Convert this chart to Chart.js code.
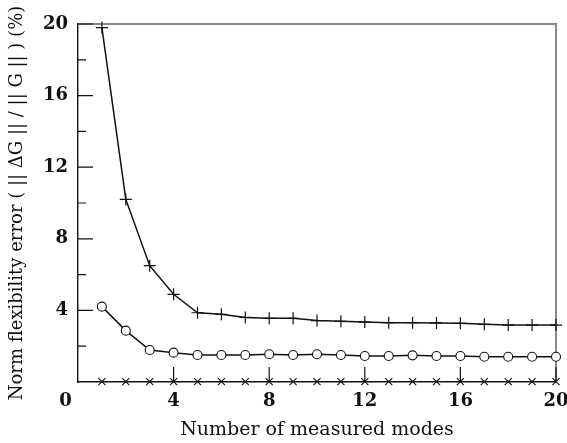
<!DOCTYPE html>
<html>
<head>
<meta charset="utf-8">
<script src="https://cdn.jsdelivr.net/npm/chart.js@4"></script>
<style>
  body { margin: 0; background: #fff; }
  canvas { display: block; }
</style>
</head>
<body>
<canvas id="chart" width="567" height="443"></canvas>
<script>
const modes = [1, 2, 3, 4, 5, 6, 7, 8, 9, 10, 11, 12, 13, 14, 15, 16, 17, 18, 19, 20];
const plusErr = [19.8, 10.2, 6.5, 4.9, 3.87, 3.78, 3.61, 3.56, 3.56, 3.43, 3.39, 3.35, 3.31, 3.31, 3.3, 3.28, 3.22, 3.18, 3.18, 3.18];
const circleErr = [4.21, 2.87, 1.79, 1.64, 1.51, 1.51, 1.51, 1.55, 1.51, 1.55, 1.51, 1.45, 1.45, 1.49, 1.45, 1.45, 1.41, 1.41, 1.41, 1.41];
const crossErr = [0.02, 0.02, 0.02, 0.02, 0.02, 0.02, 0.02, 0.02, 0.02, 0.02, 0.02, 0.02, 0.02, 0.02, 0.02, 0.02, 0.02, 0.02, 0.02, 0.02];
const xTicks = [0, 4, 8, 12, 16, 20];
const yTicks = [4, 8, 12, 16, 20];
const yMinorTicks = [2, 6, 10, 14, 18];

const toPoints = (ys) => modes.map((m, i) => ({ x: m, y: ys[i] }));

// ticks pointing into the plot + the grey top/right frame
const frame = {
    id: "frame",
    beforeDatasetsDraw(chart) {
        const { ctx, chartArea: a, scales } = chart;
        ctx.save();
        ctx.strokeStyle = "#888";
        ctx.lineWidth = 2;
        ctx.beginPath();
        ctx.moveTo(a.left, a.top);
        ctx.lineTo(a.right, a.top);
        ctx.lineTo(a.right, a.bottom);
        ctx.stroke();

        ctx.strokeStyle = "#111";
        ctx.lineWidth = 1.2;
        ctx.beginPath();
        yTicks.forEach((v) => {
            const y = scales.y.getPixelForValue(v);
            ctx.moveTo(a.left, y);
            ctx.lineTo(a.left + 15, y);
        });
        yMinorTicks.forEach((v) => {
            const y = scales.y.getPixelForValue(v);
            ctx.moveTo(a.left, y);
            ctx.lineTo(a.left + 8, y);
        });
        xTicks.slice(1).forEach((v) => {
            const x = scales.x.getPixelForValue(v);
            ctx.moveTo(x, a.bottom);
            ctx.lineTo(x, a.bottom - 15);
        });
        ctx.stroke();
        ctx.restore();
    },
};

const tickFont = { family: "DejaVu Serif", size: 18, weight: "bold" };
const xTitleFont = { family: "DejaVu Serif", size: 19 };
const yTitleFont = { family: "DejaVu Serif", size: 18 };

new Chart(document.getElementById("chart"), {
    type: "line",
    data: {
        datasets: [
            {
                data: toPoints(plusErr),
                borderColor: "#111",
                borderWidth: 1.5,
                pointStyle: "cross",
                pointRadius: 6,
                pointBorderColor: "#111",
                pointBorderWidth: 1.2,
                clip: false,
            },
            {
                data: toPoints(circleErr),
                borderColor: "#111",
                borderWidth: 1.5,
                pointStyle: "circle",
                pointRadius: 4.5,
                pointBackgroundColor: "#fff",
                pointBorderColor: "#111",
                pointBorderWidth: 1.1,
                clip: false,
            },
            {
                data: toPoints(crossErr),
                showLine: false,
                pointStyle: "crossRot",
                pointRadius: 5,
                pointBorderColor: "#111",
                pointBorderWidth: 1.1,
                clip: false,
            },
        ],
    },
    options: {
        responsive: false,
        animation: false,
        layout: { padding: { top: 24, right: 11, left: 0, bottom: 0 } },
        plugins: {
            legend: { display: false },
            tooltip: { enabled: false },
        },
        scales: {
            x: {
                type: "linear",
                min: 0,
                max: 20,
                afterFit: (s) => {
                    s.height = 61;
                    s.paddingLeft = 0;
                    s.paddingRight = 0;
                },
                afterBuildTicks: (s) => { s.ticks = xTicks.map((v) => ({ value: v })); },
                grid: { display: false, drawTicks: false },
                border: { color: "#111", width: 1.4 },
                ticks: {
                    padding: 9,
                    color: "#111",
                    font: tickFont,
                    maxRotation: 0,
                    callback: (v) => (v === 0 ? "0\u2007\u2007" : v),
                },
                title: {
                    display: true,
                    text: "Number of measured modes",
                    color: "#111",
                    font: xTitleFont,
                    padding: { top: 4, bottom: 2 },
                },
            },
            y: {
                min: 0,
                max: 20,
                afterFit: (s) => {
                    s.width = 78;
                    s.paddingTop = 0;
                    s.paddingBottom = 0;
                },
                afterBuildTicks: (s) => { s.ticks = [0, ...yTicks].map((v) => ({ value: v })); },
                grid: { display: false, drawTicks: false },
                border: { color: "#111", width: 1.4 },
                ticks: {
                    padding: 10,
                    color: "#111",
                    font: tickFont,
                    callback: (v) => (v === 0 ? "" : v),
                },
                title: {
                    display: true,
                    text: "Norm flexibility error ( || \u0394G || / || G || ) (%)",
                    color: "#111",
                    font: yTitleFont,
                    padding: { top: 7, bottom: 0 },
                },
            },
        },
    },
    plugins: [frame],
});
</script>
</body>
</html>
